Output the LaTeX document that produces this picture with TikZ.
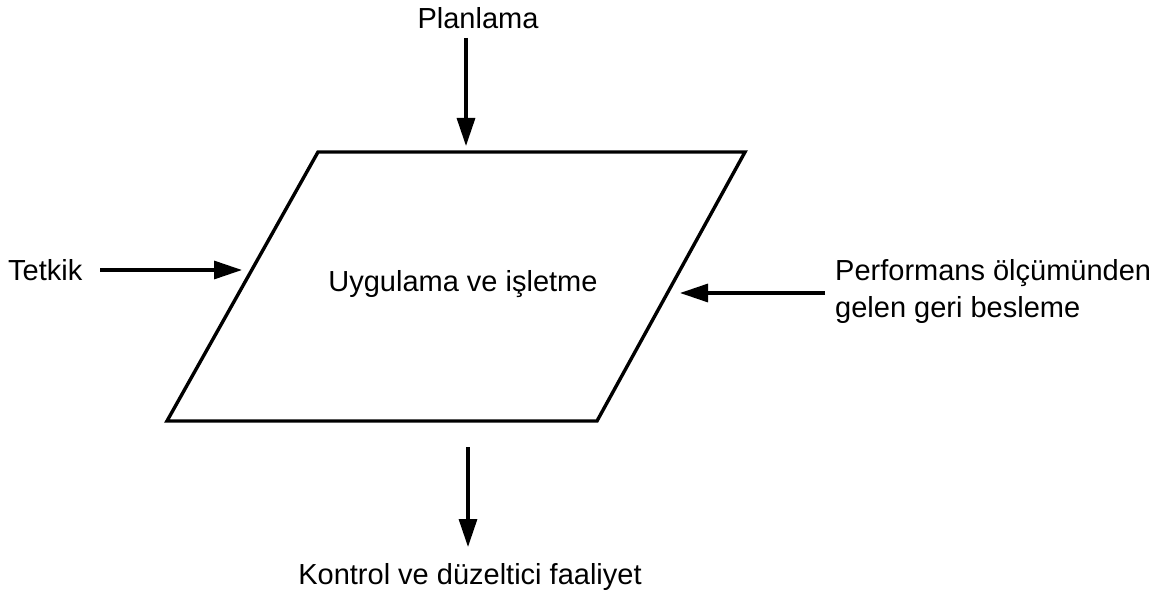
\documentclass[tikz,border=0pt]{standalone}
\usepackage{fontspec}
\setmainfont{Liberation Sans}
\usetikzlibrary{arrows.meta}
\begin{document}
\begin{tikzpicture}[x=1pt,y=-1pt,
  lbl/.style={inner sep=0pt,font=\fontsize{29}{37}\selectfont},
  flow/.style={line width=3.2pt,-{Triangle[length=28pt,width=18pt]}},
  box/.style={line width=3.4pt,line join=miter}]
\useasboundingbox (0,0) rectangle (1176,596);
% central parallelogram
\draw[box] (318,152) coordinate (tl) -- (745,152) coordinate (tr)
  -- (597,421) coordinate (br) -- (167,421) coordinate (bl) -- cycle;
\node[lbl] (main) at (463,284) {Uygulama ve işletme};
% labels
\node[lbl] (plan) at (478,18) {Planlama};
\node[lbl,anchor=west] (tet) at (8,270) {Tetkik};
\node[lbl,anchor=west,align=left] (perf) at (835,292) {Performans ölçümünden\\gelen geri besleme};
\node[lbl] (kon) at (470,577) {Kontrol ve düzeltici faaliyet};
% arrow end points
\coordinate (pa) at (466,38);   \coordinate (pb) at (466,146);
\coordinate (ta) at (100,270);  \coordinate (tb) at (242,270);
\coordinate (ra) at (825,293);  \coordinate (rb) at (680,293);
\coordinate (ka) at (468,447);  \coordinate (kb) at (468,547);
\draw[flow] (pa) -- (pb);
\draw[flow] (ta) -- (tb);
\draw[flow] (ra) -- (rb);
\draw[flow] (ka) -- (kb);
\end{tikzpicture}
\end{document}
